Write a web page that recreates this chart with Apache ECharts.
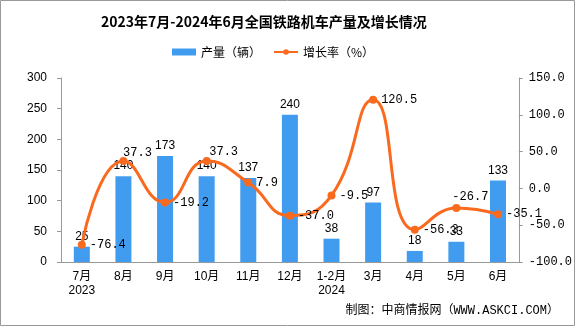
<!DOCTYPE html>
<html><head><meta charset="utf-8">
<script src="https://cdn.jsdelivr.net/npm/echarts@6/dist/echarts.min.js"></script>
<style>html,body{margin:0;padding:0;background:#fff}#c{width:575px;height:326px}</style>
</head><body><div id="c"></div>
<script>
const categories = ['7月\n2023','8月','9月','10月','11月','12月','1-2月\n2024','3月','4月','5月','6月'];
const production = [25,140,173,140,137,240,38,97,18,33,133];
const growth = [-76.4,37.3,-19.2,37.3,7.9,-37.0,-9.5,120.5,-56.3,-26.7,-35.1];
const leftTicks = [0,50,100,150,200,250,300];
const rightTicks = [-100,-50,0,50,100,150];

const mono = '"Liberation Mono","Noto Sans CJK SC",monospace';
const sans = '"Liberation Sans","Noto Sans CJK SC",sans-serif';
const labelPos = ['right','top','right','top','right','right','right','right','right','top','right'];
const labelOff = [[0,0],[14,6],[0,0],[17,5],[0,0],[0,0],[0,0],[0,0],[0,0],[14,3],[0,0]];

const chart = echarts.init(document.getElementById('c'));
chart.setOption({
  animation:false,
  title:{text:'2023年7月-2024年6月全国铁路机车产量及增长情况',left:96,top:10,
    textStyle:{fontFamily:'"Noto Sans CJK SC",sans-serif',fontWeight:'bold',fontSize:14,color:'#000'}},
  legend:{top:41,left:167,itemGap:12,itemWidth:24,itemHeight:7,
    textStyle:{fontFamily:'"Noto Sans CJK SC",sans-serif',fontSize:12,color:'#000'},
    data:[{name:'产量（辆）',icon:'rect'},{name:'增长率（%）'}]},
  grid:{left:61,right:53,top:78,bottom:64},
  graphic:[{type:'rect',shape:{x:0.5,y:0.5,width:574,height:325},style:{fill:'none',stroke:'#999',lineWidth:1}},
    {type:'text',right:16,top:305,style:{text:'制图：中商情报网（WWW.ASKCI.COM）',font:'12px '+mono,fill:'#000'}}],
  xAxis:{type:'category',data:categories,
    axisLine:{lineStyle:{color:'#999'}},axisTick:{lineStyle:{color:'#999'},length:5},
    axisLabel:{color:'#000',fontSize:12,fontFamily:sans,margin:8,lineHeight:14,interval:0}},
  yAxis:[{type:'value',min:0,max:300,interval:50,splitLine:{show:false},
    axisLine:{show:true,lineStyle:{color:'#999'}},axisTick:{show:true,length:4,lineStyle:{color:'#999'}},
    axisLabel:{color:'#000',fontSize:12,fontFamily:sans,margin:14}},
   {type:'value',min:-100,max:150,interval:50,splitLine:{show:false},
    axisLine:{show:true,lineStyle:{color:'#999'}},axisTick:{show:true,length:4,lineStyle:{color:'#999'}},
    axisLabel:{color:'#000',fontSize:12,fontFamily:mono,margin:10,formatter:v=>v.toFixed(1)}}],
  series:[
    {name:'产量（辆）',type:'bar',data:production,barWidth:16,itemStyle:{color:'#419CF0'},
     label:{show:true,position:'top',color:'#000',fontSize:12,fontFamily:sans,distance:4}},
    {name:'增长率（%）',type:'line',yAxisIndex:1,smooth:0.5,symbol:'circle',symbolSize:8,
     lineStyle:{color:'#FA6A1E',width:3},itemStyle:{color:'#FA6A1E'},
     data:growth.map((v,i)=>({value:v,label:{position:labelPos[i],offset:labelOff[i]}})),
     label:{show:true,color:'#000',fontSize:12,fontFamily:mono,distance:4,formatter:p=>p.value.toFixed(1)}}
  ]
});
</script></body></html>
